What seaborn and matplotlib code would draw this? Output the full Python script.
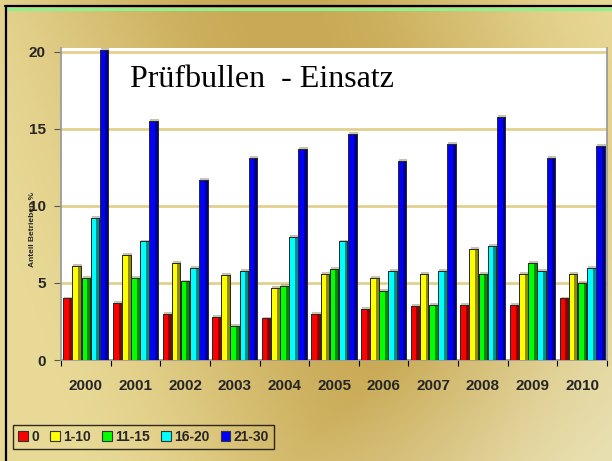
import numpy as np
import pandas as pd
import matplotlib
matplotlib.use("Agg")
import matplotlib.pyplot as plt
import matplotlib.colors as mcolors
from matplotlib.patches import Rectangle
from matplotlib.lines import Line2D
import seaborn as sns

years = ["2000", "2001", "2002", "2003", "2004", "2005", "2006", "2007", "2008", "2009", "2010"]
groups = ["0", "1-10", "11-15", "16-20", "21-30"]
v_0 = [4.0, 3.7, 3.0, 2.8, 2.7, 3.0, 3.3, 3.5, 3.6, 3.6, 4.0]
v_1_10 = [6.1, 6.8, 6.3, 5.5, 4.7, 5.6, 5.3, 5.6, 7.2, 5.6, 5.6]
v_11_15 = [5.3, 5.3, 5.1, 2.2, 4.8, 5.9, 4.5, 3.6, 5.6, 6.3, 5.0]
v_16_20 = [9.2, 7.7, 6.0, 5.8, 8.0, 7.7, 5.8, 5.8, 7.4, 5.8, 6.0]
v_21_30 = [20.1, 15.5, 11.7, 13.1, 13.7, 14.7, 12.9, 14.0, 15.8, 13.1, 13.9]
colors = ["#FF0000", "#FFFF00", "#00FF00", "#00FFFF", "#0000FF"]
title = "Prüfbullen  - Einsatz"
ylabel = "Anteil Betrieben %"

series = [v_0, v_1_10, v_11_15, v_16_20, v_21_30]
df = pd.DataFrame({
    "Jahr": years * len(groups),
    "Gruppe": [g for g in groups for _ in years],
    "Wert": [v for s in series for v in s],
})

sns.set_theme(style="white")
plt.rcParams["font.family"] = ["Liberation Sans", "DejaVu Sans"]

fig = plt.figure(figsize=(6.12, 4.61), dpi=100)

# gold gradient background
bg = fig.add_axes([0, 0, 1, 1], zorder=-10)
H, W = 461, 612
yy, xx = np.mgrid[0:H, 0:W]
d = (xx - 0.35 * yy) / W
light = np.array(mcolors.to_rgb("#E9DA98"))
dark = np.array(mcolors.to_rgb("#C8A955"))
t = np.clip(np.cos((d - 0.45) * 5.0) * 0.5 + 0.5, 0, 1)
t = t * (1 - 0.25 * np.clip((xx + yy - 700) / 400, 0, 1))
img = light[None, None, :] * (1 - t[..., None]) + dark[None, None, :] * t[..., None]
br = np.clip((xx + yy - 750) / 300, 0, 1)[..., None]
img = img * (1 - br) + np.array(mcolors.to_rgb("#E8DFB0"))[None, None, :] * br
bg.imshow(img, aspect="auto", extent=[0, 1, 0, 1], origin="upper")
bg.set_axis_off()

# frame lines
fig.add_artist(Line2D([5/W, 1], [1 - 6.5/H, 1 - 6.5/H], color="black", lw=1.6, transform=fig.transFigure))
fig.add_artist(Line2D([5.5/W, 5.5/W], [0, 1 - 6/H], color="black", lw=1.6, transform=fig.transFigure))
fig.add_artist(Rectangle((6/W, 1 - 11.5/H), 1, 3.5/H, color="#8FF08F", transform=fig.transFigure, lw=0))

ax = fig.add_axes([61/W, 1 - 360/H, (607 - 61)/W, (360 - 48)/H])
ax.set_facecolor("white")

sns.barplot(data=df, x="Jahr", y="Wert", hue="Gruppe", palette=colors,
            width=0.92, gap=0.06, edgecolor="#333333", linewidth=0.7,
            saturation=1, ax=ax, legend=False)

# shade right side of bars for cylinder-like look, plus soft shadow
for cont in ax.containers:
    for p in cont.patches:
        x0, w, h = p.get_x(), p.get_width(), p.get_height()
        if h <= 0:
            continue
        c = np.array(mcolors.to_rgb(p.get_facecolor()))
        p.set_zorder(3)
        ax.add_patch(Rectangle((x0 + w * 0.12, 0), w, h + 0.12, color="#9C9070",
                               alpha=0.55, lw=0, zorder=2.5))
        ax.add_patch(Rectangle((x0 + w * 0.66, 0), w * 0.34, h, color=tuple(c * 0.55),
                               lw=0, zorder=3.5))
        ax.add_patch(Rectangle((x0, 0), w, h, fill=False, edgecolor="#2a2a2a", lw=0.7, zorder=3.6))

ax.set_ylim(0, 20.25)
ax.set_xlim(-0.5, 10.5)
ax.set_yticks([0, 5, 10, 15, 20])
ax.set_yticklabels(["0", "5", "10", "15", "20"], fontsize=11, fontweight="bold")
ax.tick_params(axis="y", length=5, width=0.8, color="#555555", pad=6, direction="out", left=True)
ax.set_xticks(range(len(years)))
ax.set_xticklabels(years, fontsize=11, fontweight="bold")
ax.tick_params(axis="x", length=0, pad=14)
ax.set_xticks(np.arange(-0.5, 10.6, 1), minor=True)
ax.tick_params(axis="x", which="minor", length=4, width=0.8, color="black", bottom=True, direction="out")
ax.grid(axis="y", color="#E3D08E", lw=2, zorder=0)
ax.set_axisbelow(True)
ax.spines["top"].set_visible(False)
for s in ["left", "right", "bottom"]:
    ax.spines[s].set_color("#999999")
ax.set_xlabel("")
ax.set_ylabel(ylabel, fontsize=6, fontweight="bold")
ax.yaxis.set_label_coords(-0.045, 0.42)

ax.text(0.126, 0.875, title, transform=ax.transAxes, fontsize=23,
        family=["Liberation Serif", "DejaVu Serif"], color="black", zorder=5)

handles = [Rectangle((0, 0), 1, 1, facecolor=c, edgecolor="#333333", lw=0.8) for c in colors]
leg = fig.legend(handles, groups, loc="lower left", bbox_to_anchor=(13/W, 1 - 449/H),
                 ncol=5, frameon=True, fancybox=False,
                 prop={"weight": "bold", "size": 10}, handlelength=0.7, handleheight=0.7,
                 handletextpad=0.25, columnspacing=0.8, borderpad=0.35, borderaxespad=0)
leg.get_frame().set_edgecolor("black")
leg.get_frame().set_linewidth(1.0)
leg.get_frame().set_facecolor("none")

fig.savefig("out.png", dpi=100)
